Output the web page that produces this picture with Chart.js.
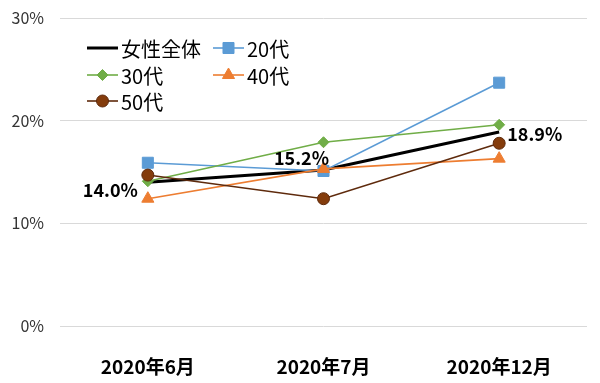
<!DOCTYPE html>
<html><head><meta charset="utf-8">
<script src="https://cdn.jsdelivr.net/npm/chart.js@4/dist/chart.umd.min.js"></script>
<style>html,body{margin:0;padding:0;background:#fff}</style>
</head><body>
<canvas id="c" width="600" height="383"></canvas>
<script>
const categories = ['2020年6月', '2020年7月', '2020年12月'];
const seriesNames = ['女性全体', '20代', '30代', '40代', '50代'];
const allWomen = [14.0, 15.2, 18.9];
const age20s = [15.9, 15.1, 23.7];
const age30s = [14.1, 17.9, 19.6];
const age40s = [12.4, 15.3, 16.3];
const age50s = [14.7, 12.4, 17.8];
const yTicks = [0, 10, 20, 30];

const FONT = '"Noto Sans CJK JP", "Noto Sans", sans-serif';

const styles = [
  {color:'#000000', fill:'#000000', width:3, point:false, radius:0, order:5},
  {color:'#5B9BD5', fill:'#5B9BD5', width:1.6, point:'rect', radius:7.8, order:4},
  {color:'#70AD47', fill:'#70AD47', width:1.6, point:'rectRot', radius:5.5, order:3},
  {color:'#ED7D31', fill:'#ED7D31', width:1.6, point:'triangle', radius:7, order:2},
  {color:'#5E2A0C', fill:'#843C0C', width:1.6, point:'circle', radius:6, order:1}
];
const values = [allWomen, age20s, age30s, age40s, age50s];

const datasets = values.map((v, i) => ({
  label: seriesNames[i],
  data: v,
  borderColor: styles[i].color,
  backgroundColor: styles[i].fill,
  borderWidth: styles[i].width,
  pointStyle: styles[i].point,
  pointRadius: styles[i].radius,
  pointBorderWidth: 1,
  pointBorderColor: styles[i].color,
  pointBackgroundColor: styles[i].fill,
  tension: 0,
  order: styles[i].order
}));

// label offsets for the 女性全体 data labels: [dx, dy, align]
const labelPlacement = [[-10, 8, 'right'], [-22, -12, 'center'], [8, 2, 'left']];

const dataLabelPlugin = {
  id: 'dataLabels',
  afterDatasetsDraw(chart) {
    const ctx = chart.ctx;
    const meta = chart.getDatasetMeta(0);
    ctx.save();
    ctx.font = '600 18px ' + FONT;
    ctx.fillStyle = '#000';
    ctx.textBaseline = 'middle';
    meta.data.forEach((pt, i) => {
      const p = labelPlacement[i];
      ctx.textAlign = p[2];
      ctx.fillText(allWomen[i].toFixed(1) + '%', pt.x + p[0], pt.y + p[1]);
    });
    ctx.restore();
  }
};

const legendPlugin = {
  id: 'customLegend',
  afterDraw(chart) {
    const ctx = chart.ctx;
    const pos = [[87, 48], [213, 48], [87, 75], [213, 75], [87, 101]];
    ctx.save();
    ctx.font = '20px ' + FONT;
    ctx.textBaseline = 'middle';
    ctx.textAlign = 'left';
    seriesNames.forEach((name, i) => {
      const [x, y] = pos[i];
      const s = styles[i];
      ctx.strokeStyle = s.color;
      ctx.lineWidth = s.width;
      ctx.beginPath();
      ctx.moveTo(x, y); ctx.lineTo(x + 31, y);
      ctx.stroke();
      if (s.point) {
        ctx.fillStyle = s.fill;
        ctx.lineWidth = 1;
        Chart.helpers.drawPoint(ctx, {pointStyle: s.point, radius: s.radius, borderWidth: 1, rotation: 0}, x + 15.5, y);
      }
      ctx.fillStyle = '#000';
      ctx.fillText(name, x + 34, y + 1);
    });
    ctx.restore();
  }
};

new Chart(document.getElementById('c'), {
  type: 'line',
  data: { labels: categories, datasets },
  options: {
    responsive: false,
    animation: false,
    layout: { padding: { top: 18, right: 13, left: 0, bottom: 0 } },
    plugins: { legend: { display: false }, tooltip: { enabled: false } },
    scales: {
      x: {
        offset: true,
        grid: { display: false },
        border: { display: false },
        ticks: { color: '#000', font: { family: FONT, size: 19, weight: 'bold' }, padding: 21, maxRotation: 0 },
        afterFit(scale) { scale.height = 57; scale.paddingLeft = 0; scale.paddingRight = 0; }
      },
      y: {
        min: 0, max: 30,
        afterBuildTicks(scale) { scale.ticks = yTicks.map(v => ({ value: v })); },
        grid: { color: '#D9D9D9', lineWidth: 1, drawTicks: false },
        border: { display: false },
        ticks: { color: '#333', font: { family: FONT, size: 16 }, padding: 16, callback: v => v + '%' },
        afterFit(scale) { scale.width = 60; scale.paddingTop = 0; scale.paddingBottom = 0; }
      }
    }
  },
  plugins: [dataLabelPlugin, legendPlugin]
});
</script>
</body></html>
